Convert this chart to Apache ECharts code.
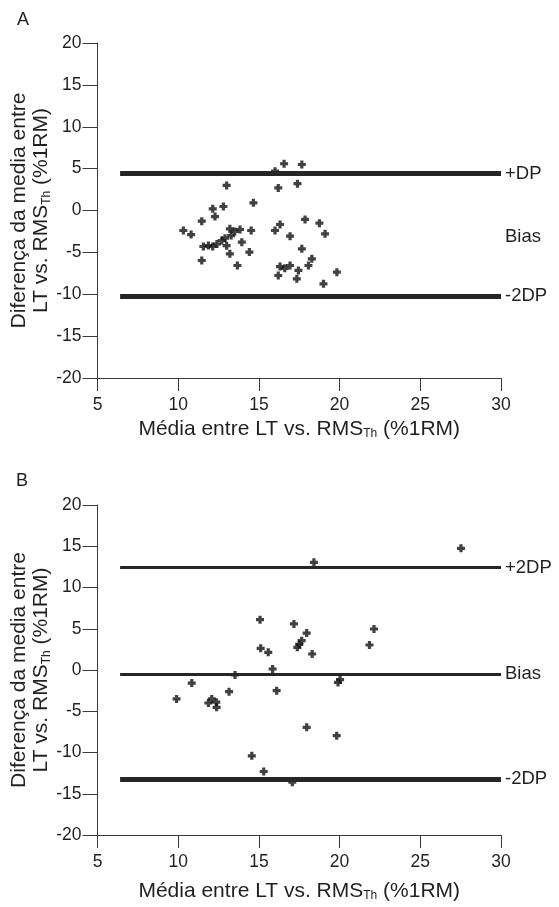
<!DOCTYPE html>
<html><head><meta charset="utf-8">
<script src="https://cdn.jsdelivr.net/npm/echarts@6/dist/echarts.min.js"></script>
<style>html,body{margin:0;padding:0;background:#fff}#c{width:559px;height:907px}</style>
</head><body><div id="c"></div>
<script>
// Panel A: Bland-Altman points [mean, difference]
const pointsA = [
 [16.56,5.58],[17.66,5.49],[16.0,4.7],[13.0,3.0],[17.39,3.2],[16.2,2.7],[14.66,0.92],[12.8,0.48],
 [12.14,0.2],[12.28,-0.72],[11.46,-1.27],[10.32,-2.39],[10.8,-2.87],[13.2,-2.19],[13.83,-2.27],
 [14.52,-2.39],[13.28,-2.99],[13.94,-3.78],[12.7,-3.58],[11.87,-4.18],[11.56,-4.3],[12.14,-4.3],
 [12.4,-4.0],[13.2,-5.17],[14.41,-4.97],[11.46,-5.97],[13.67,-6.57],[16.0,-2.39],[16.31,-1.67],
 [16.93,-3.07],[17.86,-1.07],[18.75,-1.51],[19.1,-2.79],[17.66,-4.58],[18.28,-5.77],[16.31,-6.69],
 [16.6,-6.9],[16.93,-6.57],[17.45,-7.16],[18.07,-6.57],[16.2,-7.76],[17.35,-8.16],[19.83,-7.36],
 [19.0,-8.75],[13.5,-2.5],[13.0,-4.2],[12.9,-3.3]
];
// Panel B
const pointsB = [
 [15.07,6.1],[17.17,5.58],[17.96,4.48],[17.65,3.55],[17.38,2.75],[15.11,2.63],[15.58,2.14],[18.3,1.94],
 [15.85,0.12],[13.52,-0.6],[20.03,-1.17],[19.9,-1.5],[10.84,-1.58],[13.15,-2.63],[16.1,-2.5],
 [9.9,-3.5],[12.08,-3.5],[11.87,-4.0],[12.38,-4.52],[12.36,-3.9],[17.96,-6.95],[19.82,-7.96],
 [14.56,-10.4],[15.3,-12.3],[17.07,-13.6],[27.52,14.75],[18.41,13.05],[22.13,4.97],[21.85,3.03],[17.5,3.1]
];
// Reference lines: [label, value]
const linesA = [['+DP', 4.4], ['Bias', -3.2], ['-2DP', -10.2]];
const linesB = [['+2DP', 12.4], ['Bias', -0.5], ['-2DP', -13.2]];
const lineStartX = 6.4, lineEndX = 30;
const xTicks = {min: 5, max: 30, interval: 5};
const yTicks = {min: -20, max: 20, interval: 5};

const FONT = 'Liberation Sans, Arial, sans-serif';
const TXT = '#231f20';
const AX = '#3a3a3a';
const plus = 'path://M2.4,0H5.6V2.4H8V5.6H5.6V8H2.4V5.6H0V2.4H2.4Z';
const NAME_FS = 21;

function nameStyle() {
  return {fontFamily: FONT, color: TXT, fontSize: NAME_FS, lineHeight: 22,
    rich: {a: {fontSize: NAME_FS, lineHeight: 22, fontFamily: FONT, color: TXT},
           s: {fontSize: 12, lineHeight: 12, verticalAlign: 'bottom', fontFamily: FONT, color: TXT}}};
}
function xAxis(gi, nameGap) {
  return {
    type: 'value', gridIndex: gi, min: xTicks.min, max: xTicks.max, interval: xTicks.interval,
    axisLine: {onZero: false, lineStyle: {color: AX, width: 1}},
    axisTick: {length: 13, lineStyle: {color: AX}},
    axisLabel: {fontSize: 17.5, color: TXT, fontFamily: FONT, margin: 18},
    splitLine: {show: false},
    name: '{a|Média entre LT vs. RMS}{s|Th}{a| (%1RM)}',
    nameLocation: 'middle', nameGap: nameGap,
    nameTextStyle: nameStyle()
  };
}
function yAxis(gi) {
  return {
    type: 'value', gridIndex: gi, min: yTicks.min, max: yTicks.max, interval: yTicks.interval,
    axisLine: {onZero: false, lineStyle: {color: AX, width: 1}},
    axisTick: {length: 15, lineStyle: {color: AX}},
    axisLabel: {fontSize: 17.5, color: TXT, fontFamily: FONT, margin: 16},
    splitLine: {show: false},
    name: '{a|Diferença da media entre}\n{a|LT vs. RMS}{s|Th}{a| (%1RM)}',
    nameLocation: 'middle', nameRotate: 90, nameGap: 45, nameMoveOverlap: false,
    nameTextStyle: nameStyle()
  };
}
function markLines(lines, widths, hideIdx) {
  return {
    silent: true, symbol: 'none', animation: false,
    data: lines.map((l, i) => [
      {coord: [lineStartX, l[1]],
       lineStyle: {color: i === hideIdx ? 'rgba(0,0,0,0)' : '#262626', width: widths[i], type: 'solid'},
       label: {show: true, position: 'end', formatter: l[0], fontSize: 18.5, color: TXT, fontFamily: FONT, distance: 4}},
      {coord: [lineEndX, l[1]]}
    ])
  };
}

const chart = echarts.init(document.getElementById('c'), null, {renderer: 'canvas'});
chart.setOption({
  animation: false,
  backgroundColor: '#fff',
  grid: [
    {left: 97.5, top: 43, width: 403.5, height: 335, containLabel: false, outerBoundsMode: 'none'},
    {left: 97.5, top: 505, width: 403.5, height: 330, containLabel: false, outerBoundsMode: 'none'}
  ],
  xAxis: [xAxis(0, 40), xAxis(1, 45)],
  yAxis: [yAxis(0), yAxis(1)],
  graphic: [
    {type: 'text', left: 17, top: 11, style: {text: 'A', fontSize: 18, fill: TXT, fontFamily: FONT}},
    {type: 'text', left: 16, top: 472, style: {text: 'B', fontSize: 18, fill: TXT, fontFamily: FONT}}
  ],
  series: [
    {type: 'scatter', xAxisIndex: 0, yAxisIndex: 0, data: pointsA, symbol: plus, symbolSize: 8,
     itemStyle: {color: '#111'}, markLine: markLines(linesA, [5, 1, 5], 1)},
    {type: 'scatter', xAxisIndex: 1, yAxisIndex: 1, data: pointsB, symbol: plus, symbolSize: 8,
     itemStyle: {color: '#111'}, markLine: markLines(linesB, [3, 3, 5], -1)}
  ]
});
</script></body></html>
